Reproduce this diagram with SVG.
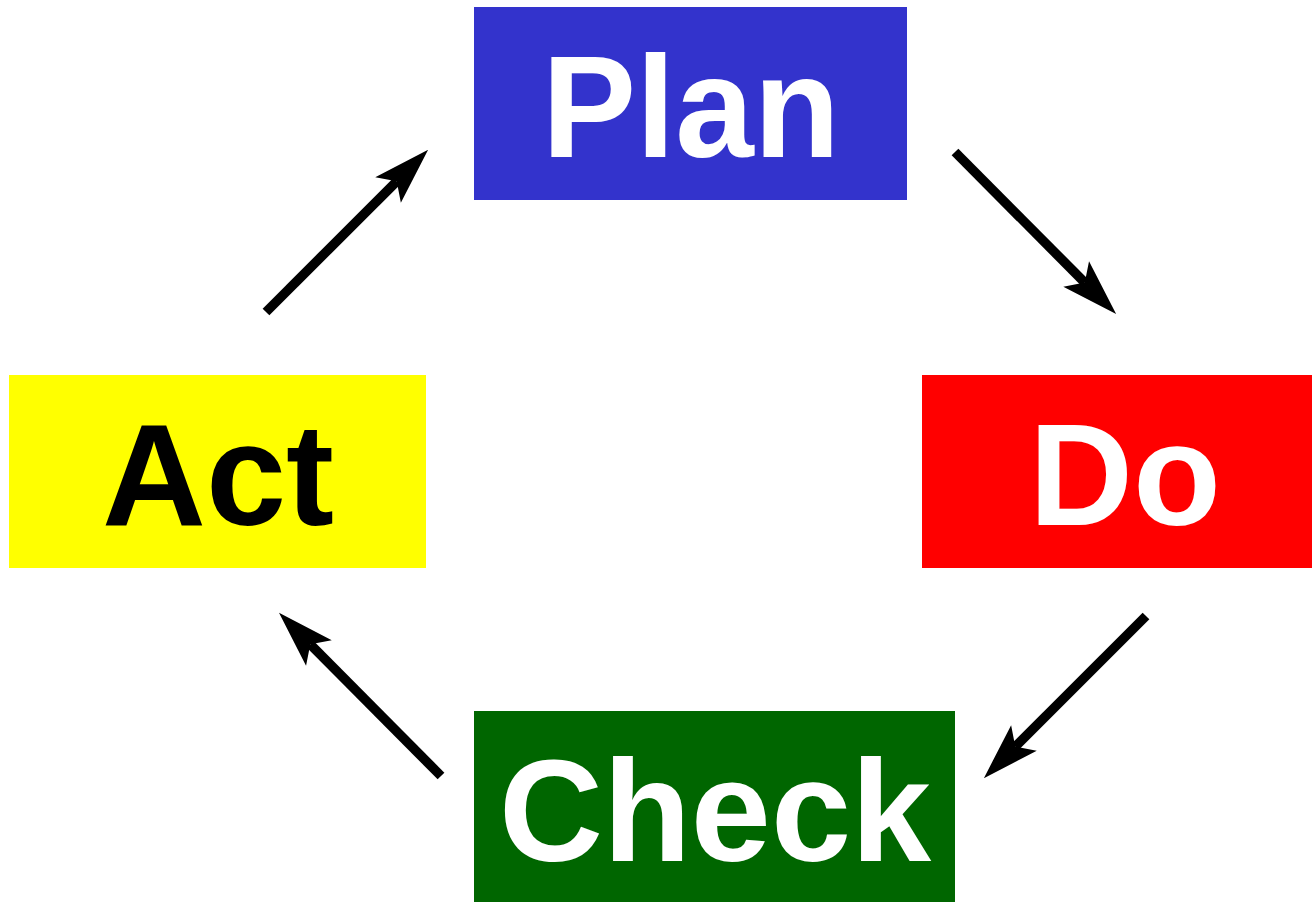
<svg xmlns="http://www.w3.org/2000/svg" width="1312" height="902" viewBox="0 0 1312 902">
<style>
.lbl{font-family:"Liberation Sans",Arial,sans-serif;font-weight:bold;font-size:144px;text-anchor:middle}
.conn line{stroke:#000;stroke-width:9.5;fill:none}
</style>
<defs>
<marker id="ah" markerUnits="userSpaceOnUse" orient="auto" refX="0" refY="0" markerWidth="60" markerHeight="40" viewBox="-12 -18 54 36" overflow="visible">
<path d="M40,0 L-11,-16.3 L0,0 L-11,16.3 Z" fill="#000"/>
</marker>
</defs>
<rect width="1312" height="902" fill="#fff"/>
<g id="plan">
<rect x="474" y="7" width="433" height="193" fill="#3333CC"/>
<text class="lbl" x="691" y="157" fill="#fff" textLength="298" lengthAdjust="spacingAndGlyphs">Plan</text>
</g>
<g id="do">
<rect x="922" y="375" width="390" height="193" fill="#FF0000"/>
<text class="lbl" x="1125" y="525" fill="#fff">Do</text>
</g>
<g id="check">
<rect x="474" y="711" width="481" height="191" fill="#006600"/>
<text class="lbl" x="715" y="861" fill="#fff">Check</text>
</g>
<g id="act">
<rect x="9" y="375" width="417" height="193" fill="#FFFF00"/>
<text class="lbl" x="218" y="525" fill="#000">Act</text>
</g>
<g id="connectors" class="conn">
<line x1="266" y1="312" x2="396.7" y2="181.3" marker-end="url(#ah)"/>
<line x1="955" y1="152" x2="1084.8" y2="282.6" marker-end="url(#ah)"/>
<line x1="1146" y1="616" x2="1015.3" y2="746.7" marker-end="url(#ah)"/>
<line x1="441" y1="776" x2="310.3" y2="644.3" marker-end="url(#ah)"/>
</g>
</svg>
